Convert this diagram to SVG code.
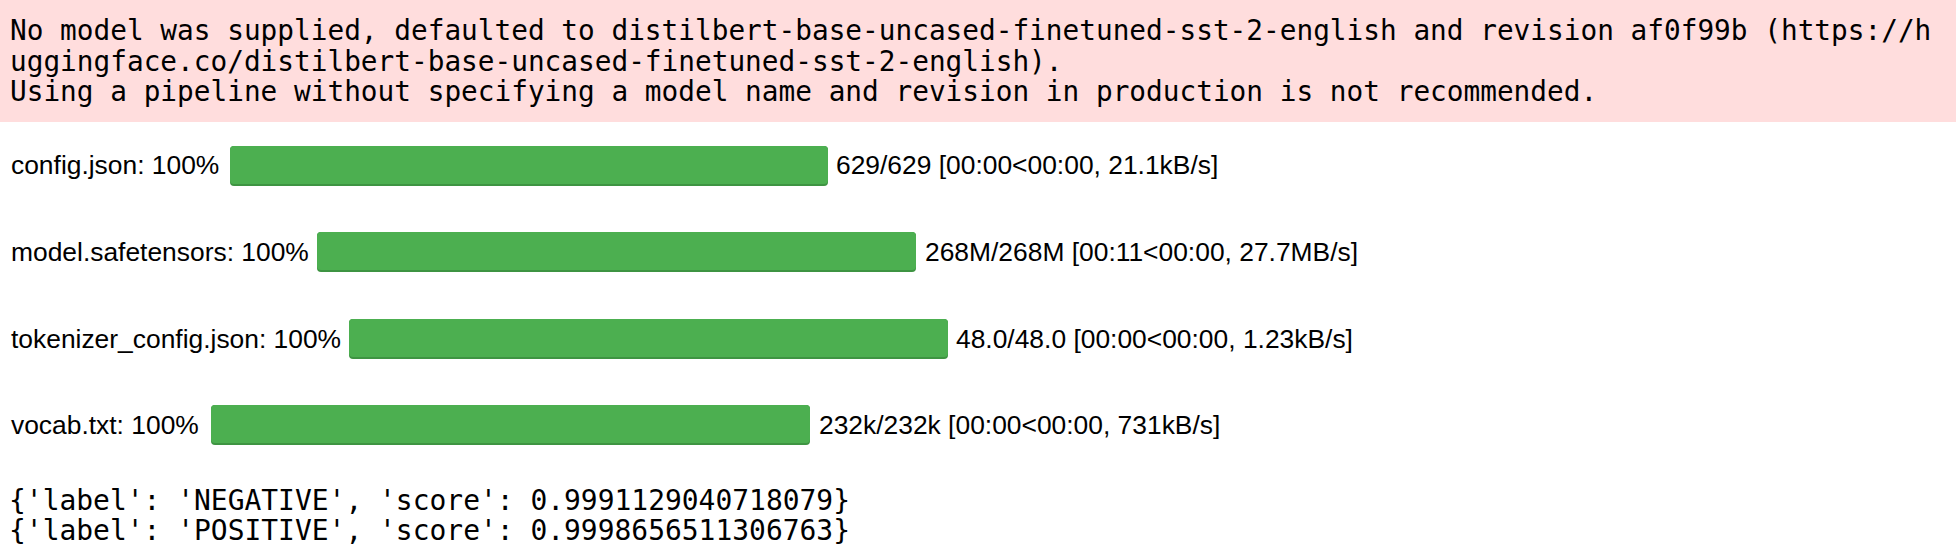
<svg xmlns="http://www.w3.org/2000/svg" width="1956" height="558" viewBox="0 0 1956 558">
<style>
.mono{font-family:"DejaVu Sans Mono","Liberation Mono",monospace;font-size:27.75px;fill:#000}
.out{font-size:27.95px}
.sans{font-family:"Liberation Sans",Arial,sans-serif;font-size:26.4px;fill:#000}
.bar{fill:#4caf50}
.shade{fill:#3e9442}
</style>
<rect x="0" y="0" width="1956" height="122" fill="#ffdddd"/>
<g id="warning">
<text class="mono" x="10" y="40">No model was supplied, defaulted to distilbert-base-uncased-finetuned-sst-2-english and revision af0f99b (https://h</text>
<text class="mono" x="10" y="70.5">uggingface.co/distilbert-base-uncased-finetuned-sst-2-english).</text>
<text class="mono" x="10" y="101">Using a pipeline without specifying a model name and revision in production is not recommended.</text>
</g>
<g id="row-config">
<text class="sans" x="11" y="174">config.json: 100%</text>
<rect class="shade" x="230" y="146" width="598" height="40" rx="4"/>
<rect class="bar" x="230" y="146" width="598" height="38" rx="4"/>
<text class="sans" x="836" y="174">629/629 [00:00&lt;00:00, 21.1kB/s]</text>
</g>
<g id="row-model">
<text class="sans" x="11" y="261">model.safetensors: 100%</text>
<rect class="shade" x="317" y="232" width="599" height="40" rx="4"/>
<rect class="bar" x="317" y="232" width="599" height="38" rx="4"/>
<text class="sans" x="925" y="261">268M/268M [00:11&lt;00:00, 27.7MB/s]</text>
</g>
<g id="row-tokenizer">
<text class="sans" x="11" y="348">tokenizer_config.json: 100%</text>
<rect class="shade" x="349" y="319" width="599" height="40" rx="4"/>
<rect class="bar" x="349" y="319" width="599" height="38" rx="4"/>
<text class="sans" x="956" y="348">48.0/48.0 [00:00&lt;00:00, 1.23kB/s]</text>
</g>
<g id="row-vocab">
<text class="sans" x="11" y="434">vocab.txt: 100%</text>
<rect class="shade" x="211" y="405" width="599" height="40" rx="4"/>
<rect class="bar" x="211" y="405" width="599" height="38" rx="4"/>
<text class="sans" x="819" y="434">232k/232k [00:00&lt;00:00, 731kB/s]</text>
</g>
<g id="output">
<text class="mono out" x="9" y="510">{'label': 'NEGATIVE', 'score': 0.9991129040718079}</text>
<text class="mono out" x="9" y="540">{'label': 'POSITIVE', 'score': 0.9998656511306763}</text>
</g>
<g id="connectors"/>
</svg>
